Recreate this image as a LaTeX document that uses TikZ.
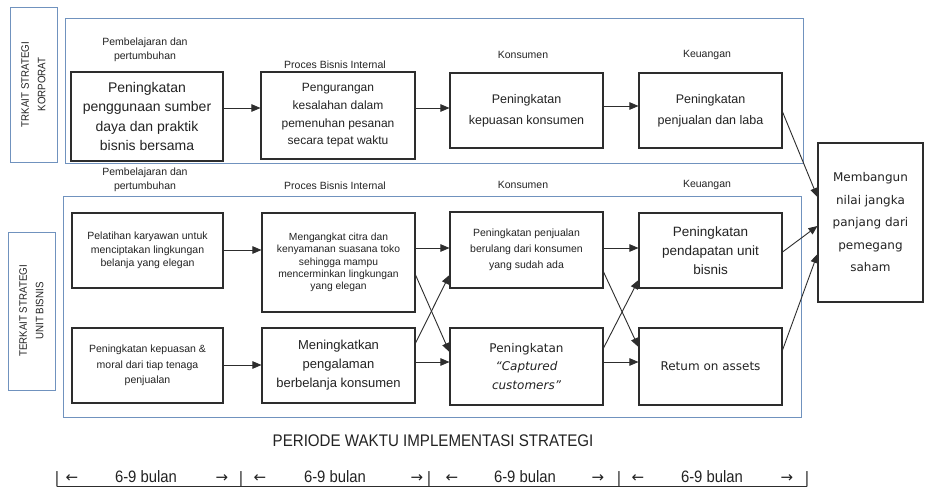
\documentclass[tikz,border=0pt]{standalone}
\usepackage{fontspec}
\setmainfont{Liberation Sans}
\newfontfamily\nar[FakeStretch=0.9]{Liberation Sans}
\newfontfamily\dv{DejaVu Sans}
\usetikzlibrary{arrows.meta}
\definecolor{frameblue}{RGB}{112,146,190}
\definecolor{boxgray}{RGB}{45,45,45}
\definecolor{txt}{RGB}{35,35,35}
\newcommand{\fs}[2]{\fontsize{#1}{#2}\selectfont}
\begin{document}
\begin{tikzpicture}[x=1pt,y=-1pt,
 box/.style={draw=boxgray,line width=1.1pt,align=center,inner sep=1pt,text=txt},
 frame/.style={draw=frameblue,line width=0.9pt,inner sep=0pt},
 lbl/.style={draw=frameblue,line width=0.9pt,align=center,rotate=90,text=txt,inner sep=0pt,font=\nar\fs{10.8}{16.5}},
 hdr/.style={align=center,text=txt,inner sep=0pt,font=\fs{10.5}{14}},
 arr/.style={draw=boxgray,line width=0.9pt,-{Triangle[length=9pt,width=7.5pt]}},
 tl/.style={anchor=base,text=txt,inner sep=0pt}]
\useasboundingbox (0,0) rectangle (926,489);
\fill[white] (0,0) rectangle (926,489);

% frames and side labels
\node[frame,minimum width=738pt,minimum height=145pt] (F1) at (434,90.5) {};
\node[frame,minimum width=738pt,minimum height=221pt] (F2) at (432,306.5) {};
\node[lbl,minimum width=155pt,minimum height=47pt] (L1) at (33.5,84.5) {TRKAIT STRATEGI\\KORPORAT};
\node[lbl,minimum width=158pt,minimum height=47pt] (L2) at (31.5,311) {TERKAIT STRATEGI\\UNIT BISNIS};

% headers
\node[hdr] (h11) at (145,50) {Pembelajaran dan\\pertumbuhan};
\node[hdr] (h12) at (335,65) {Proces Bisnis Internal};
\node[hdr] (h13) at (523,55) {Konsumen};
\node[hdr] (h14) at (707,55) {Keuangan};
\node[hdr] (h21) at (145,180) {Pembelajaran dan\\pertumbuhan};
\node[hdr] (h22) at (335,186) {Proces Bisnis Internal};
\node[hdr] (h23) at (523,185) {Konsumen};
\node[hdr] (h24) at (707,185) {Keuangan};

% top row
\node[box,minimum width=152pt,minimum height=89pt,font=\fs{14}{19.5}] (t1) at (147,116.5)
 {Peningkatan\\penggunaan sumber\\daya dan praktik\\bisnis bersama};
\node[box,minimum width=154pt,minimum height=87pt,font=\fs{12}{17.7}] (t2) at (338,115.5)
 {Pengurangan\\kesalahan dalam\\pemenuhan pesanan\\secara tepat waktu};
\node[box,minimum width=153pt,minimum height=75pt,font=\fs{12.5}{21}] (t3) at (526.5,110.5)
 {Peningkatan\\kepuasan konsumen};
\node[box,minimum width=143pt,minimum height=75pt,font=\fs{12.5}{21}] (t4) at (710.5,110.5)
 {Peningkatan\\penjualan dan laba};

% bottom rows
\node[box,minimum width=151pt,minimum height=75pt,font=\fs{10.5}{13.5}] (b11) at (147.5,250.5)
 {Pelatihan karyawan untuk\\menciptakan lingkungan\\belanja yang elegan};
\node[box,minimum width=153pt,minimum height=99pt,font=\fs{10.3}{12.2}] (b12) at (338.5,262.5)
 {Mengangkat citra dan\\kenyamanan suasana toko\\sehingga mampu\\mencerminkan lingkungan\\yang elegan};
\node[box,minimum width=153pt,minimum height=76pt,font=\fs{10.5}{16}] (b13) at (526.5,250)
 {Peningkatan penjualan\\berulang dari konsumen\\yang sudah ada};
\node[box,minimum width=143pt,minimum height=75pt,font=\fs{13.5}{19}] (b14) at (710.5,250.5)
 {Peningkatan\\pendapatan unit\\bisnis};
\node[box,minimum width=151pt,minimum height=75pt,font=\fs{10.5}{15.5}] (b21) at (147.5,365.5)
 {Peningkatan kepuasan \&\\moral dari tiap tenaga\\penjualan};
\node[box,minimum width=153pt,minimum height=75pt,font=\fs{13}{19}] (b22) at (338.5,365.5)
 {Meningkatkan\\pengalaman\\berbelanja konsumen};
\node[box,minimum width=153pt,minimum height=77pt,font=\dv\fs{12}{18.5}] (b23) at (526.5,366.5)
 {Peningkatan\\{\itshape “Captured}\\{\itshape customers”}};
\node[box,minimum width=143pt,minimum height=77pt,font=\dv\fs{12}{18}] (b24) at (710.5,366.5)
 {Retum on assets};

% right box
\node[box,minimum width=105pt,minimum height=159pt,font=\dv\fs{12}{22.5}] (R) at (870.5,222.5)
 {Membangun\\nilai jangka\\panjang dari\\pemegang\\saham};

% arrows
\draw[arr] ([yshift=8.5pt]t1.east) -- ([yshift=7.5pt]t2.west);
\draw[arr] ([yshift=7.5pt]t2.east) -- ([yshift=2.5pt]t3.west);
\draw[arr] ([yshift=4.5pt]t3.east) -- ([yshift=4.5pt]t4.west);
\draw[arr] ([yshift=-1.5pt]t4.east) -- ([yshift=25.5pt]R.west);

\draw[arr] ([yshift=0.5pt]b11.east) -- ([yshift=12.5pt]b12.west);
\draw[arr] ([yshift=14.5pt]b12.east) -- ([yshift=2pt]b13.west);
\draw[arr] ([yshift=2pt]b13.east) -- ([yshift=2.5pt]b14.west);
\draw[arr] ([yshift=0.5pt]b21.east) -- ([yshift=0.5pt]b22.west);
\draw[arr] ([yshift=3.5pt]b22.east) -- ([yshift=4.5pt]b23.west);
\draw[arr] ([yshift=4.5pt]b23.east) -- ([yshift=4.5pt]b24.west);

\draw[arr] ([yshift=-12.5pt]b12.east) -- ([yshift=14.5pt]b23.west);
\draw[arr] ([yshift=22.5pt]b22.east) -- ([yshift=-25pt]b13.west);
\draw[arr] ([yshift=-22pt]b13.east) -- ([yshift=19.5pt]b24.west);
\draw[arr] ([yshift=18.5pt]b23.east) -- ([yshift=-29.5pt]b14.west);

\draw[arr] ([yshift=-1.5pt]b14.east) -- ([yshift=-3.5pt]R.west);
\draw[arr] ([yshift=16.5pt]b24.east) -- ([yshift=-31.5pt]R.west);

% time period
\node[text=txt,inner sep=0pt,font=\nar\fs{16.8}{18}] (per) at (433,441) {PERIODE WAKTU IMPLEMENTASI STRATEGI};
\foreach \x [count=\i] in {57,241,429,619,807}
  \node[tl,font=\nar\fs{16.5}{18}] (tk\i) at (\x,483) {|};
\foreach \x [count=\i] in {72,260,452,638}
  \node[tl,font=\dv\fs{15}{18}] (la\i) at (\x,482) {←};
\foreach \x [count=\i] in {222,417,598,787}
  \node[tl,font=\dv\fs{15}{18}] (ra\i) at (\x,482) {→};
\foreach \x [count=\i] in {146,335,525,712}
  \node[tl,font=\nar\fs{16.5}{18}] (d\i) at (\x,482) {6-9 bulan};
\coordinate (u1) at (57,486.5);
\coordinate (u2) at (807,486.5);
\draw[boxgray,line width=1pt] (u1) -- (u2);
\end{tikzpicture}
\end{document}
